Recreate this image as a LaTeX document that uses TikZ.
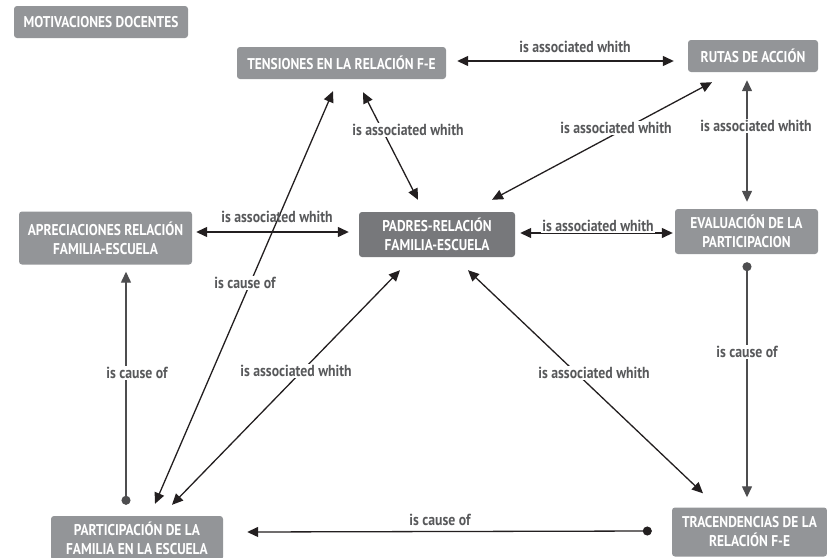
\documentclass[tikz,border=0pt]{standalone}
\usepackage{fontspec}
\setmainfont{PT Sans}
\newfontfamily\mapfont[FakeStretch=0.86]{PT Sans}
\usetikzlibrary{arrows.meta}
\definecolor{boxgray}{HTML}{939598}
\definecolor{boxdark}{HTML}{77787B}
\definecolor{labelgray}{HTML}{58595B}
\definecolor{linedark}{HTML}{231F20}
\definecolor{linesoft}{HTML}{4D4D4F}
\begin{document}
\begin{tikzpicture}[x=1pt,y=-1pt,
  concept/.style={fill=boxgray, rounded corners=3pt, text=white, align=center,
    inner sep=0pt, font=\mapfont\bfseries\fontsize{15.6}{19}\selectfont},
  keyconcept/.style={concept, fill=boxdark},
  link/.style={draw=linedark, line width=1.3pt},
  softlink/.style={link, draw=linesoft},
  tipT/.tip={Triangle[length=11pt,width=10pt]},
  tipC/.tip={Circle[length=9pt]},
  both/.style={tipT-tipT},
  cause/.style={tipC-tipT},
  lbl/.style={text=labelgray, inner sep=1.5pt,
    font=\mapfont\bfseries\fontsize{16}{18}\selectfont},
  lblw/.style={lbl, fill=white}]
\useasboundingbox (0,0) rectangle (827,557);

% concepts
\node[concept, minimum width=174pt, minimum height=32pt] (mot) at (101,22) {MOTIVACIONES DOCENTES};
\node[concept, minimum width=209pt, minimum height=32pt] (ten) at (341.5,63) {TENSIONES EN LA RELACIÓN F-E};
\node[concept, minimum width=130pt, minimum height=32pt] (rut) at (753,56) {RUTAS DE ACCIÓN};
\node[concept, minimum width=143pt, minimum height=45pt] (eva) at (746.5,231.5) {EVALUACIÓN DE LA\\PARTICIPACION};
\node[keyconcept, minimum width=156pt, minimum height=45pt] (pad) at (437,234.5) {PADRES-RELACIÓN\\FAMILIA-ESCUELA};
\node[concept, minimum width=173pt, minimum height=53pt] (apr) at (105.5,238) {APRECIACIONES RELACIÓN\\FAMILIA-ESCUELA};
\node[concept, minimum width=172pt, minimum height=44pt] (par) at (137,538) {PARTICIPACIÓN DE LA\\FAMILIA EN LA ESCUELA};
\node[concept, minimum width=155pt, minimum height=49pt] (tra) at (749.5,532) {TRACENDENCIAS DE LA\\RELACIÓN F-E};

% connectors
\draw[link, both] ([shift={(11,-2)}]ten.east) -- ([shift={(-14,5)}]rut.west);
\draw[link, both] ([shift={(21.5,13)}]ten.south) -- ([shift={(-19,-12)}]pad.north);
\draw[link, both] ([shift={(-41,10)}]rut.south) -- ([shift={(55,-12)}]pad.north);
\draw[softlink, both] ([shift={(-6,8)}]rut.south) -- ([shift={(0.5,-7)}]eva.north);
\draw[link, both] ([shift={(5,-1.5)}]pad.east) -- ([shift={(-2,1.5)}]eva.west);
\draw[link, both] ([shift={(4,-6)}]apr.east) -- ([shift={(-10,-2.5)}]pad.west);
\draw[softlink, cause] ([shift={(-11,-11)}]par.north) -- ([shift={(20.5,7)}]apr.south);
\draw[link, both] ([shift={(18,-12)}]par.north) -- ([shift={(-8.5,12)}]ten.south);
\draw[link, both] ([shift={(35,-11)}]par.north) -- ([shift={(-37,13)}]pad.south);
\draw[link, both] ([shift={(31,13)}]pad.south) -- ([shift={(-46.5,-14)}]tra.north);
\draw[softlink, cause] ([shift={(0.5,8)}]eva.south) -- ([shift={(-2.5,-10)}]tra.north);
\draw[link, cause] ([shift={(-20,-1)}]tra.west) -- ([shift={(24,-6)}]par.east);

% link labels
\node[lbl]  (l1)  at (575,47)  {is associated whith};
\node[lblw] (l2)  at (408,130) {is associated whith};
\node[lblw] (l3)  at (616,128) {is associated whith};
\node[lblw] (l4)  at (756,126) {is associated whith};
\node[lblw] (l5)  at (598,226) {is associated whith};
\node[lbl]  (l6)  at (277,217) {is associated whith};
\node[lblw] (l7)  at (137,373) {is cause of};
\node[lblw] (l8)  at (245,283) {is cause of};
\node[lblw] (l9)  at (296,371) {is associated whith};
\node[lblw] (l10) at (594,373) {is associated whith};
\node[lblw] (l11) at (747,352) {is cause of};
\node[lbl]  (l12) at (440,520) {is cause of};
\end{tikzpicture}
\end{document}
